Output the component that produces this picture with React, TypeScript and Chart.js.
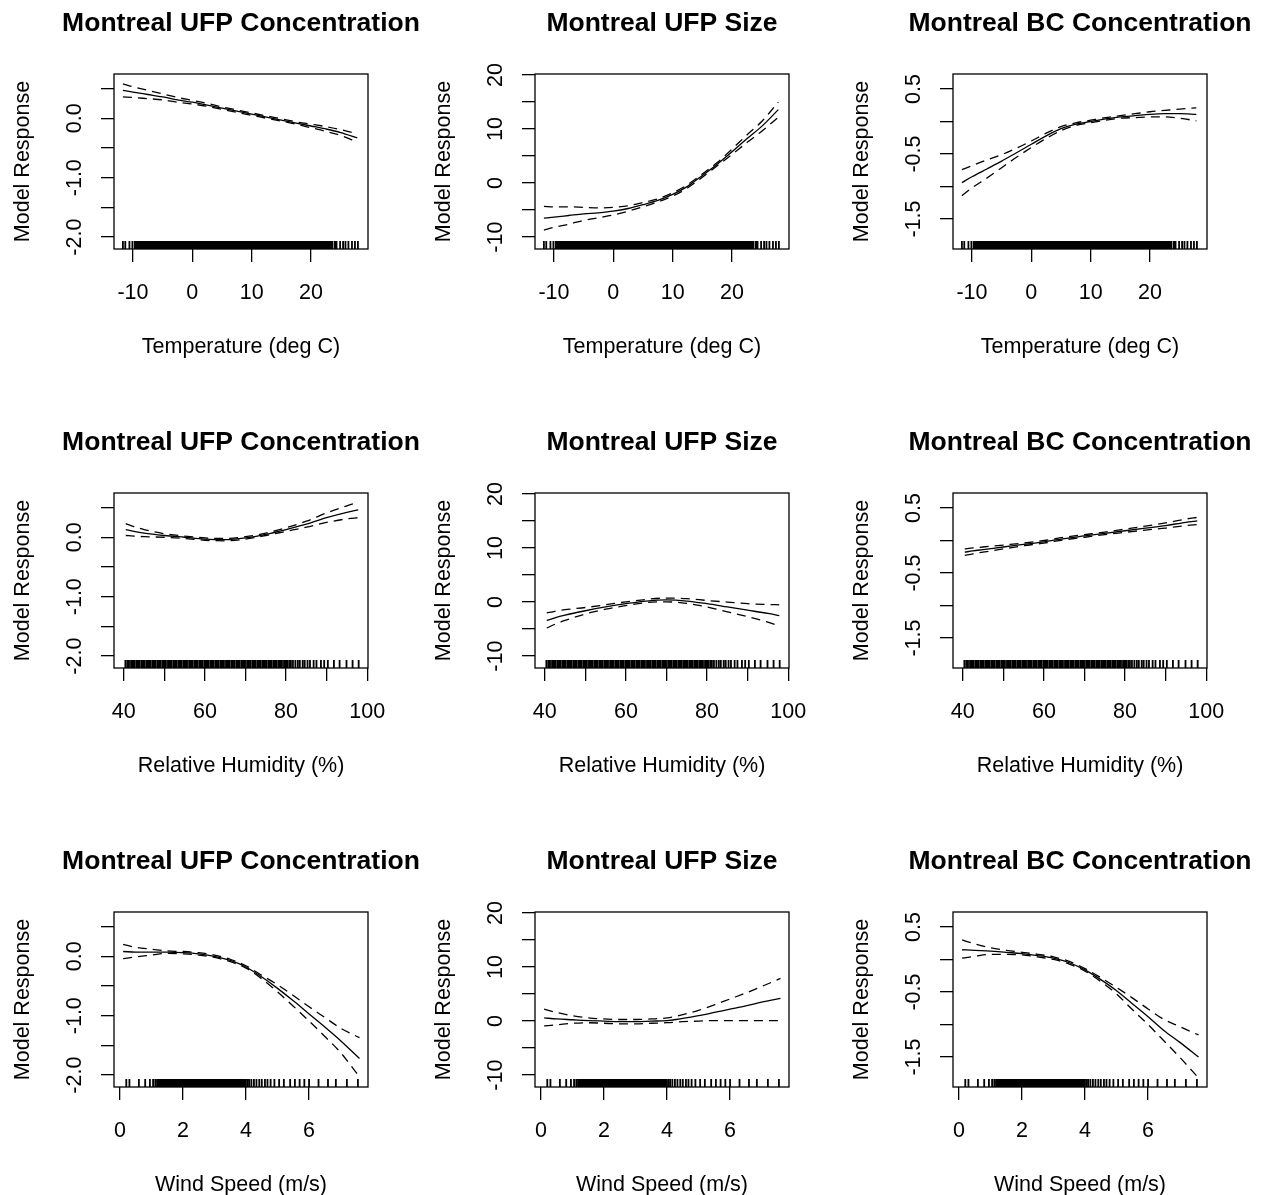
import React, { useEffect, useRef } from "react";
import { Chart, registerables } from "chart.js";

Chart.register(...registerables);

// ---------- text ----------
const panelTitles = ["Montreal UFP Concentration", "Montreal UFP Size", "Montreal BC Concentration"];
const xAxisTitles = ["Temperature (deg C)", "Relative Humidity (%)", "Wind Speed (m/s)"];
const yAxisTitle = "Model Response";

// ---------- x grids (covariate values) ----------
const tempX = [-11.7, -10, -7.5, -5, -2.5, 0, 2.5, 5, 7.5, 10, 12.5, 15, 17.5, 20, 22.5, 25, 27.8];
const rhX = [40.5, 42.5, 45, 50, 55, 60, 65, 70, 75, 80, 85, 90, 95, 97.8];
const windX = [0.1, 0.5, 1, 1.5, 2, 2.5, 3, 3.5, 4, 4.5, 5, 5.5, 6, 6.5, 7, 7.6];

// ---------- UFP concentration ----------
const ufpConcTempFit = [0.47, 0.44, 0.40, 0.36, 0.31, 0.27, 0.22, 0.17, 0.12, 0.07, 0.02, -0.03, -0.08, -0.13, -0.18, -0.24, -0.33];
const ufpConcTempUpper = [0.58, 0.53, 0.47, 0.41, 0.35, 0.30, 0.25, 0.19, 0.14, 0.09, 0.04, -0.01, -0.06, -0.10, -0.14, -0.19, -0.26];
const ufpConcTempLower = [0.36, 0.35, 0.33, 0.31, 0.27, 0.24, 0.20, 0.15, 0.10, 0.05, 0.00, -0.05, -0.10, -0.16, -0.22, -0.29, -0.40];

const ufpConcRhFit = [0.13, 0.10, 0.07, 0.03, 0.0, -0.03, -0.04, -0.01, 0.05, 0.13, 0.22, 0.33, 0.42, 0.46];
const ufpConcRhUpper = [0.23, 0.18, 0.13, 0.06, 0.02, -0.01, -0.02, 0.01, 0.07, 0.16, 0.27, 0.41, 0.53, 0.59];
const ufpConcRhLower = [0.03, 0.02, 0.01, 0.0, -0.02, -0.05, -0.06, -0.03, 0.03, 0.10, 0.17, 0.25, 0.31, 0.33];

const ufpConcWindFit = [0.08, 0.07, 0.07, 0.07, 0.06, 0.04, 0.0, -0.07, -0.18, -0.35, -0.54, -0.75, -0.97, -1.19, -1.42, -1.72];
const ufpConcWindUpper = [0.20, 0.15, 0.12, 0.09, 0.08, 0.06, 0.02, -0.05, -0.16, -0.32, -0.48, -0.66, -0.85, -1.03, -1.21, -1.37];
const ufpConcWindLower = [-0.04, -0.01, 0.02, 0.05, 0.04, 0.02, -0.02, -0.09, -0.20, -0.38, -0.60, -0.84, -1.09, -1.35, -1.62, -2.03];

// ---------- UFP size ----------
const ufpSizeTempFit = [-6.5, -6.3, -6.0, -5.7, -5.5, -5.2, -4.7, -4.0, -3.2, -2.1, -0.6, 1.4, 3.5, 5.8, 8.2, 10.5, 13.6];
const ufpSizeTempUpper = [-4.3, -4.4, -4.4, -4.5, -4.6, -4.5, -4.2, -3.6, -2.9, -1.8, -0.3, 1.7, 3.8, 6.3, 8.9, 11.4, 15.0];
const ufpSizeTempLower = [-8.7, -8.2, -7.6, -6.9, -6.4, -5.9, -5.2, -4.4, -3.5, -2.4, -0.9, 1.1, 3.2, 5.3, 7.5, 9.6, 12.2];

const ufpSizeRhFit = [-3.4, -2.9, -2.4, -1.6, -0.9, -0.3, 0.2, 0.4, 0.2, -0.3, -0.9, -1.5, -2.1, -2.5];
const ufpSizeRhUpper = [-2.0, -1.7, -1.4, -1.0, -0.5, 0.05, 0.5, 0.75, 0.65, 0.3, 0.0, -0.3, -0.45, -0.5];
const ufpSizeRhLower = [-4.8, -4.1, -3.4, -2.2, -1.3, -0.65, -0.1, 0.05, -0.25, -0.9, -1.8, -2.7, -3.7, -4.4];

const ufpSizeWindFit = [0.6, 0.4, 0.25, 0.1, 0.0, -0.1, -0.1, 0.0, 0.1, 0.5, 1.0, 1.6, 2.2, 2.8, 3.5, 4.2];
const ufpSizeWindUpper = [2.2, 1.6, 1.0, 0.6, 0.4, 0.3, 0.3, 0.4, 0.6, 1.2, 2.0, 3.0, 4.1, 5.2, 6.4, 7.9];
const ufpSizeWindLower = [-0.9, -0.7, -0.4, -0.3, -0.4, -0.5, -0.5, -0.4, -0.3, -0.1, 0.0, 0.1, 0.1, 0.1, 0.1, 0.1];

// ---------- BC concentration ----------
const bcTempFit = [-0.94, -0.85, -0.73, -0.61, -0.48, -0.35, -0.22, -0.11, -0.04, 0.0, 0.04, 0.07, 0.09, 0.11, 0.12, 0.12, 0.11];
const bcTempUpper = [-0.74, -0.68, -0.59, -0.51, -0.41, -0.30, -0.18, -0.08, -0.02, 0.02, 0.06, 0.09, 0.12, 0.15, 0.17, 0.19, 0.21];
const bcTempLower = [-1.14, -1.02, -0.87, -0.71, -0.55, -0.40, -0.26, -0.14, -0.06, -0.02, 0.02, 0.05, 0.06, 0.07, 0.07, 0.05, 0.01];

const bcRhFit = [-0.18, -0.16, -0.14, -0.10, -0.06, -0.02, 0.03, 0.07, 0.11, 0.15, 0.19, 0.23, 0.28, 0.30];
const bcRhUpper = [-0.13, -0.115, -0.10, -0.07, -0.04, 0.0, 0.05, 0.09, 0.13, 0.175, 0.22, 0.27, 0.33, 0.355];
const bcRhLower = [-0.23, -0.205, -0.18, -0.13, -0.08, -0.04, 0.01, 0.05, 0.09, 0.125, 0.16, 0.19, 0.23, 0.245];

const bcWindFit = [0.15, 0.14, 0.13, 0.11, 0.09, 0.06, 0.02, -0.05, -0.16, -0.31, -0.48, -0.68, -0.88, -1.09, -1.27, -1.50];
const bcWindUpper = [0.30, 0.24, 0.18, 0.14, 0.11, 0.08, 0.04, -0.03, -0.14, -0.28, -0.43, -0.59, -0.76, -0.92, -1.03, -1.16];
const bcWindLower = [0.02, 0.05, 0.08, 0.08, 0.07, 0.04, 0.0, -0.07, -0.18, -0.34, -0.53, -0.77, -1.00, -1.25, -1.50, -1.82];

// ---------- rug (observed covariate values) ----------
const tempRug = [-11.7, -11.3, -10.6, -10.1, -9.7, -9.4, -9.2, -8.9, -8.7, -8.4, -8.2, -7.9, -7.7, -7.5, -7.2, -7.0, -6.7, -6.5, -6.2, -6.0, -5.8, -5.5, -5.3, -5.0, -4.8, -4.6, -4.3, -4.1, -3.8, -3.6, -3.4, -3.1, -2.9, -2.6, -2.4, -2.2, -1.9, -1.7, -1.4, -1.2, -1.0, -0.7, -0.5, -0.2, 0.0, 0.3, 0.5, 0.7, 1.0, 1.2, 1.5, 1.7, 1.9, 2.2, 2.4, 2.7, 2.9, 3.1, 3.4, 3.6, 3.9, 4.1, 4.3, 4.6, 4.8, 5.1, 5.3, 5.5, 5.8, 6.0, 6.3, 6.5, 6.7, 7.0, 7.2, 7.5, 7.7, 7.9, 8.2, 8.4, 8.7, 8.9, 9.1, 9.4, 9.6, 9.9, 10.1, 10.3, 10.6, 10.8, 11.1, 11.3, 11.5, 11.8, 12.0, 12.3, 12.5, 12.7, 13.0, 13.2, 13.5, 13.7, 13.9, 14.2, 14.4, 14.7, 14.9, 15.1, 15.4, 15.6, 15.9, 16.1, 16.3, 16.6, 16.8, 17.1, 17.3, 17.5, 17.8, 18.0, 18.3, 18.5, 18.7, 19.0, 19.2, 19.5, 19.7, 19.9, 20.2, 20.4, 20.7, 20.9, 21.1, 21.4, 21.6, 21.9, 22.1, 22.3, 22.6, 22.8, 23.1, 23.3, 23.6, 24.0, 24.3, 24.9, 25.4, 25.8, 26.3, 26.9, 27.4, 27.9];
const rhRug = [40.4, 40.9, 41.3, 41.8, 42.2, 42.6, 43.1, 43.5, 43.9, 44.4, 44.8, 45.2, 45.7, 46.1, 46.5, 47.0, 47.4, 47.8, 48.3, 48.7, 49.1, 49.6, 50.0, 50.4, 50.9, 51.3, 51.7, 52.2, 52.6, 53.0, 53.5, 53.9, 54.3, 54.8, 55.2, 55.6, 56.1, 56.5, 56.9, 57.4, 57.8, 58.2, 58.7, 59.1, 59.5, 60.0, 60.4, 60.8, 61.3, 61.7, 62.1, 62.6, 63.0, 63.4, 63.9, 64.3, 64.7, 65.2, 65.6, 66.0, 66.5, 66.9, 67.3, 67.8, 68.2, 68.6, 69.1, 69.5, 69.9, 70.4, 70.8, 71.2, 71.7, 72.1, 72.5, 73.0, 73.4, 73.8, 74.3, 74.7, 75.1, 75.6, 76.0, 76.4, 76.9, 77.3, 77.7, 78.2, 78.6, 79.0, 79.5, 79.9, 80.3, 80.8, 81.2, 81.7, 82.3, 82.9, 83.4, 84.1, 84.6, 85.3, 85.9, 86.8, 87.5, 88.6, 89.4, 90.3, 91.8, 93.2, 94.9, 96.4, 97.9];
const windRug = [0.2, 0.3, 0.6, 0.8, 0.95, 1.05, 1.12, 1.18, 1.23, 1.28, 1.33, 1.38, 1.43, 1.48, 1.53, 1.58, 1.63, 1.68, 1.73, 1.78, 1.83, 1.88, 1.93, 1.98, 2.03, 2.08, 2.13, 2.18, 2.23, 2.28, 2.33, 2.38, 2.43, 2.48, 2.53, 2.58, 2.63, 2.68, 2.73, 2.78, 2.83, 2.88, 2.93, 2.98, 3.03, 3.08, 3.13, 3.18, 3.23, 3.28, 3.33, 3.38, 3.43, 3.48, 3.53, 3.58, 3.63, 3.68, 3.73, 3.78, 3.83, 3.88, 3.93, 3.98, 4.04, 4.1, 4.17, 4.25, 4.33, 4.42, 4.5, 4.6, 4.68, 4.78, 4.9, 5.05, 5.2, 5.4, 5.55, 5.7, 5.85, 6.0, 6.3, 6.6, 6.85, 7.2, 7.55];

// ---------- ticks ----------
const ufpConcYTicks = [-2, -1.5, -1, -0.5, 0, 0.5];
const ufpConcYLabels = ["-2.0", "", "-1.0", "", "0.0", ""];
const ufpSizeYTicks = [-10, -5, 0, 5, 10, 15, 20];
const ufpSizeYLabels = ["-10", "", "0", "", "10", "", "20"];
const bcYTicks = [-1.5, -1, -0.5, 0, 0.5];
const bcYLabels = ["-1.5", "", "-0.5", "", "0.5"];

const tempTicks = [-10, 0, 10, 20];
const tempTickLabels = ["-10", "0", "10", "20"];
const rhTicks = [40, 50, 60, 70, 80, 90, 100];
const rhTickLabels = ["40", "", "60", "", "80", "", "100"];
const windTicks = [0, 2, 4, 6];
const windTickLabels = ["0", "2", "4", "6"];

// ---------- assembly ----------
const rowsX = [
  { x: tempX, ticks: tempTicks, labels: tempTickLabels, rug: tempRug, min: -13.2, max: 29.6 },
  { x: rhX, ticks: rhTicks, labels: rhTickLabels, rug: rhRug, min: 37.6, max: 100.2 },
  { x: windX, ticks: windTicks, labels: windTickLabels, rug: windRug, min: -0.19, max: 7.87 },
];
const colsY = [
  { ticks: ufpConcYTicks, labels: ufpConcYLabels, min: -2.2, max: 0.745 },
  { ticks: ufpSizeYTicks, labels: ufpSizeYLabels, min: -12.2, max: 20.2 },
  { ticks: bcYTicks, labels: bcYLabels, min: -1.96, max: 0.73 },
];
const curves = [
  [
    [ufpConcTempFit, ufpConcTempUpper, ufpConcTempLower],
    [ufpSizeTempFit, ufpSizeTempUpper, ufpSizeTempLower],
    [bcTempFit, bcTempUpper, bcTempLower],
  ],
  [
    [ufpConcRhFit, ufpConcRhUpper, ufpConcRhLower],
    [ufpSizeRhFit, ufpSizeRhUpper, ufpSizeRhLower],
    [bcRhFit, bcRhUpper, bcRhLower],
  ],
  [
    [ufpConcWindFit, ufpConcWindUpper, ufpConcWindLower],
    [ufpSizeWindFit, ufpSizeWindUpper, ufpSizeWindLower],
    [bcWindFit, bcWindUpper, bcWindLower],
  ],
];

const FONT = '"Liberation Sans", Arial, Helvetica, sans-serif';
const colX = [0, 421, 839];
const rowY = [0, 419, 838];
const CW = 420;
const CH = 419;

function Panel({ r, c }: { r: number; c: number }) {
  const ref = useRef<HTMLCanvasElement>(null);
  useEffect(() => {
    const xs = rowsX[r];
    const ys = colsY[c];
    const [fit, upper, lower] = curves[r][c];
    const pts = (arr: number[]) => xs.x.map((x, i) => ({ x, y: arr[i] }));

    const rPlugin = {
      id: "rstyle" + r + c,
      afterDatasetsDraw(chart: any) {
        const { ctx, chartArea, scales } = chart;
        ctx.save();
        ctx.strokeStyle = "#000";
        ctx.lineWidth = 1.8;
        ctx.beginPath();
        for (const v of xs.rug) {
          const px = scales.x.getPixelForValue(v);
          ctx.moveTo(px, chartArea.bottom);
          ctx.lineTo(px, chartArea.bottom - 8);
        }
        ctx.stroke();
        ctx.restore();
      },
      afterDraw(chart: any) {
        const { ctx, chartArea, scales } = chart;
        const cx = (chartArea.left + chartArea.right) / 2;
        const cy = (chartArea.top + chartArea.bottom) / 2;
        ctx.save();
        // box
        ctx.strokeStyle = "#000";
        ctx.lineWidth = 1.3;
        ctx.strokeRect(chartArea.left, chartArea.top, chartArea.right - chartArea.left, chartArea.bottom - chartArea.top);
        ctx.fillStyle = "#000";
        // title
        ctx.font = `bold 26.5px ${FONT}`;
        ctx.textAlign = "center";
        ctx.textBaseline = "alphabetic";
        ctx.fillText(panelTitles[c], cx, 31);
        // x tick labels
        ctx.font = `21.5px ${FONT}`;
        xs.ticks.forEach((v, i) => {
          if (!xs.labels[i]) return;
          ctx.fillText(xs.labels[i], scales.x.getPixelForValue(v), chartArea.bottom + 50);
        });
        // x title
        ctx.fillText(xAxisTitles[r], cx, chartArea.bottom + 104);
        // y tick labels (rotated)
        ys.ticks.forEach((v, i) => {
          if (!ys.labels[i]) return;
          ctx.save();
          ctx.translate(chartArea.left - 33, scales.y.getPixelForValue(v));
          ctx.rotate(-Math.PI / 2);
          ctx.fillText(ys.labels[i], 0, 0);
          ctx.restore();
        });
        // y title
        ctx.save();
        ctx.translate(29, cy);
        ctx.rotate(-Math.PI / 2);
        ctx.fillText(yAxisTitle, 0, 0);
        ctx.restore();
        ctx.restore();
      },
    };

    const lineDs = (data: number[], dashed: boolean) => ({
      data: pts(data),
      borderColor: "#000",
      borderWidth: 1.3,
      borderDash: dashed ? [9, 6] : [],
      pointRadius: 0,
      fill: false,
      cubicInterpolationMode: "monotone" as const,
    });

    const gridOpts = { drawOnChartArea: false, drawTicks: true, tickLength: 13, color: "#000", lineWidth: 1.3 };

    const chart = new Chart(ref.current!, {
      type: "line",
      data: { datasets: [lineDs(fit, false), lineDs(upper, true), lineDs(lower, true)] },
      options: {
        animation: false,
        responsive: false,
        events: [],
        layout: { padding: { left: 0, top: 74, right: CW - 368, bottom: 150 } },
        plugins: { legend: { display: false }, tooltip: { enabled: false }, title: { display: false } },
        scales: {
          x: {
            type: "linear",
            min: xs.min,
            max: xs.max,
            afterBuildTicks: (s: any) => {
              s.ticks = xs.ticks.map((v) => ({ value: v }));
            },
            afterFit: (s: any) => {
              s.height = 20;
            },
            ticks: { display: false, autoSkip: false },
            grid: gridOpts,
            border: { display: false },
          },
          y: {
            type: "linear",
            min: ys.min,
            max: ys.max,
            afterBuildTicks: (s: any) => {
              s.ticks = ys.ticks.map((v) => ({ value: v }));
            },
            afterFit: (s: any) => {
              s.width = 114;
            },
            ticks: { display: false, autoSkip: false },
            grid: gridOpts,
            border: { display: false },
          },
        },
      },
      plugins: [rPlugin],
    } as any);
    return () => chart.destroy();
  }, [r, c]);
  return (
    <canvas
      ref={ref}
      width={CW}
      height={CH}
      style={{ position: "absolute", left: colX[c], top: rowY[r], width: CW, height: CH }}
    />
  );
}

export default function App() {
  const cells: JSX.Element[] = [];
  for (let r = 0; r < 3; r++) for (let c = 0; c < 3; c++) cells.push(<Panel key={`${r}-${c}`} r={r} c={c} />);
  return (
    <div
      style={{
        position: "absolute",
        left: 0,
        top: 0,
        width: 1262,
        height: 1195,
        overflow: "hidden",
        background: "#fff",
      }}
    >
      {cells}
    </div>
  );
}
